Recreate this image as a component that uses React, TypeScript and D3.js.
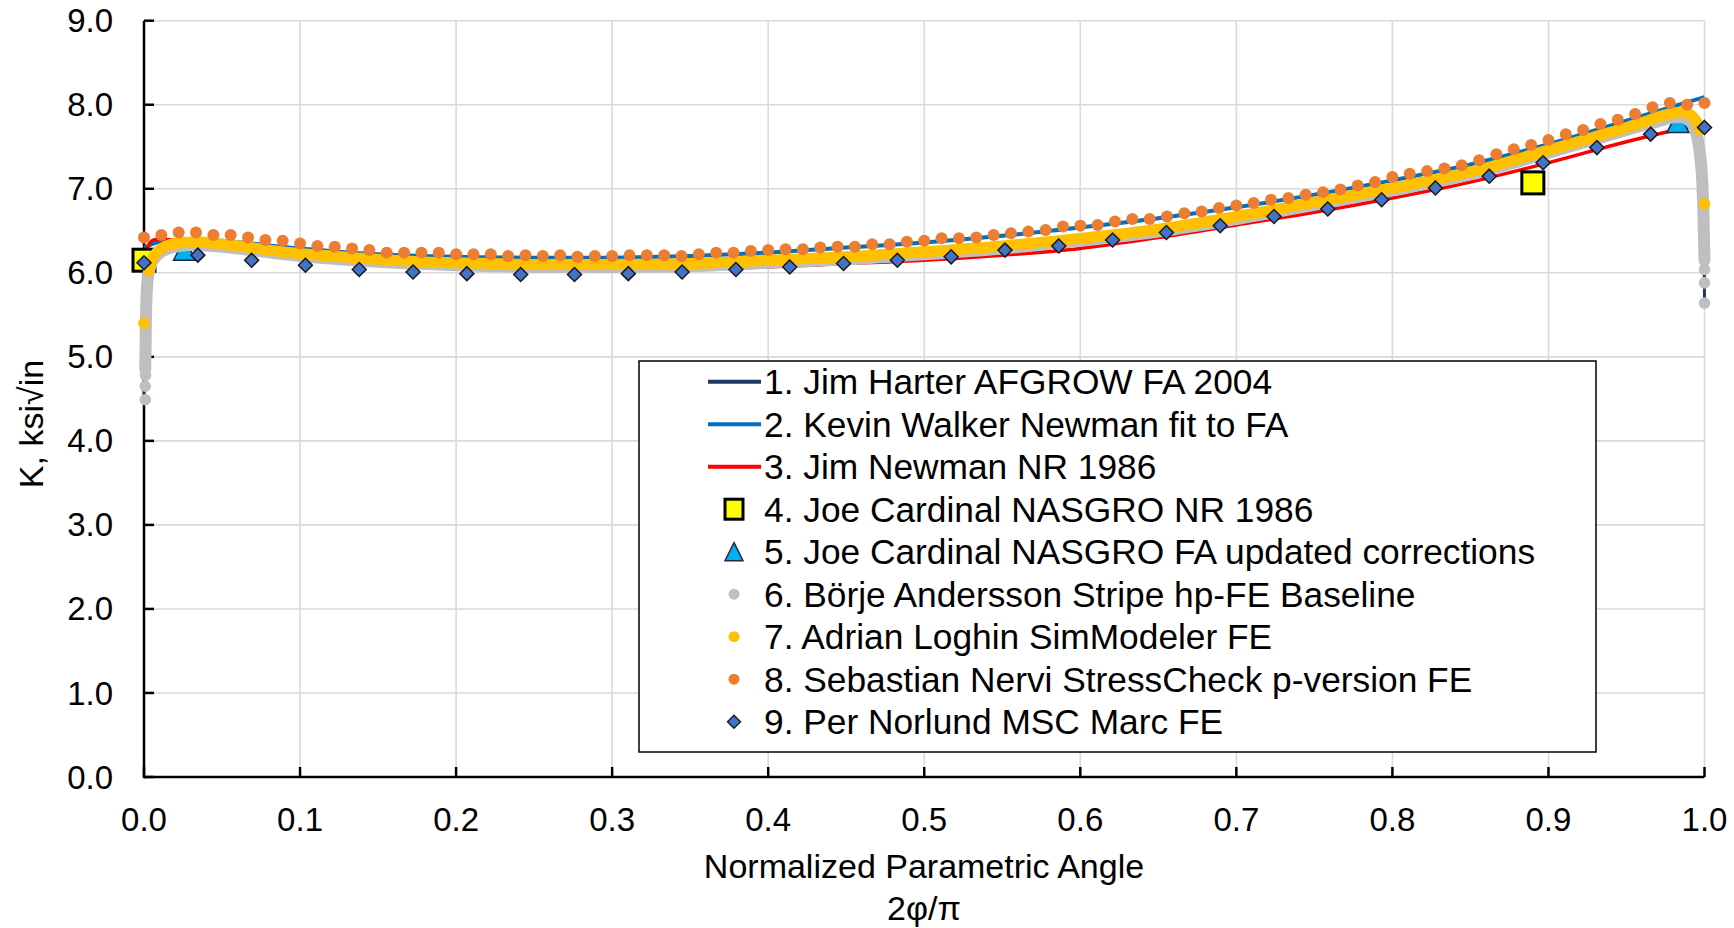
import React from 'react';
import * as d3 from 'd3';

const W = 1734;
const H = 928;
const FONT = '"Liberation Sans", Arial, Helvetica, sans-serif';

// ---- axis ticks ----
const xTicks = [0, 0.1, 0.2, 0.3, 0.4, 0.5, 0.6, 0.7, 0.8, 0.9, 1.0];
const yTicks = [0, 1, 2, 3, 4, 5, 6, 7, 8, 9];

// ---- 1. Jim Harter AFGROW FA 2004 (line) ----
const harterX = [0, 0.0005, 0.001, 0.002, 0.004, 0.008, 0.015, 0.03, 0.05, 0.1, 0.15, 0.2, 0.25, 0.3, 0.35, 0.4, 0.45, 0.5, 0.55, 0.6, 0.65, 0.7, 0.75, 0.8, 0.85, 0.9, 0.95, 0.97, 0.98, 0.99, 0.995, 0.998, 0.9995, 1.0];
const harterY = [4.55, 5.2, 5.7, 5.95, 6.12, 6.24, 6.31, 6.34, 6.32, 6.21, 6.15, 6.11, 6.09, 6.08, 6.1, 6.13, 6.18, 6.24, 6.31, 6.4, 6.51, 6.66, 6.83, 7.0, 7.19, 7.44, 7.71, 7.82, 7.86, 7.84, 7.7, 7.2, 6.5, 5.7];

// ---- 2. Kevin Walker Newman fit to FA (line) ----
const walkerX = [0, 0.01, 0.03, 0.05, 0.1, 0.15, 0.2, 0.25, 0.3, 0.35, 0.4, 0.45, 0.5, 0.55, 0.6, 0.65, 0.7, 0.75, 0.8, 0.85, 0.9, 0.95, 0.98, 1.0];
const walkerY = [6.3, 6.37, 6.4, 6.38, 6.29, 6.22, 6.19, 6.18, 6.18, 6.2, 6.24, 6.3, 6.36, 6.44, 6.54, 6.65, 6.78, 6.93, 7.1, 7.29, 7.53, 7.81, 7.98, 8.09];

// ---- 3. Jim Newman NR 1986 (line) ----
const newmanX = [0, 0.005, 0.02, 0.05, 0.1, 0.15, 0.2, 0.25, 0.3, 0.35, 0.4, 0.45, 0.5, 0.55, 0.6, 0.65, 0.7, 0.75, 0.8, 0.85, 0.9, 0.95, 1.0];
const newmanY = [6.15, 6.38, 6.39, 6.33, 6.22, 6.14, 6.08, 6.05, 6.04, 6.05, 6.07, 6.11, 6.15, 6.21, 6.29, 6.42, 6.57, 6.72, 6.89, 7.08, 7.31, 7.56, 7.78];

// ---- 4. Joe Cardinal NASGRO NR 1986 (squares) ----
const cardinalNrX = [0.0, 0.89];
const cardinalNrY = [6.15, 7.07];

// ---- 5. Joe Cardinal NASGRO FA updated corrections (triangles) ----
const cardinalFaX = [0.026, 0.983];
const cardinalFaY = [6.28, 7.8];

// ---- 6. Börje Andersson Stripe hp-FE Baseline (dense gray dots) ----
const anderssonX = [0.0008, 0.001, 0.0012, 0.0015, 0.002, 0.003, 0.005, 0.008, 0.012, 0.02, 0.03, 0.05, 0.1, 0.15, 0.2, 0.25, 0.3, 0.35, 0.4, 0.45, 0.5, 0.55, 0.6, 0.65, 0.7, 0.75, 0.8, 0.85, 0.9, 0.95, 0.97, 0.98, 0.988, 0.993, 0.996, 0.998, 0.999, 0.9995, 1.0];
const anderssonY = [4.85, 5.1, 5.4, 5.65, 5.85, 6.0, 6.12, 6.2, 6.26, 6.31, 6.33, 6.31, 6.2, 6.13, 6.09, 6.07, 6.07, 6.08, 6.12, 6.16, 6.22, 6.29, 6.38, 6.49, 6.64, 6.81, 6.98, 7.17, 7.43, 7.7, 7.8, 7.85, 7.84, 7.75, 7.55, 7.25, 6.9, 6.55, 6.15];
const anderssonDotX = [0.0008, 0.0008, 0.001, 1.0, 1.0, 1.0];
const anderssonDotY = [4.49, 4.65, 4.78, 6.04, 5.88, 5.64];

// ---- 7. Adrian Loghin SimModeler FE (dense yellow dots) ----
const loghinX = [0.003, 0.005, 0.008, 0.012, 0.017, 0.025, 0.035, 0.05, 0.065, 0.08, 0.1, 0.12, 0.15, 0.18, 0.2, 0.25, 0.3, 0.35, 0.4, 0.45, 0.5, 0.55, 0.6, 0.65, 0.7, 0.75, 0.8, 0.85, 0.9, 0.93, 0.95, 0.965, 0.975, 0.985, 0.991, 0.995, 0.997];
const loghinY = [6.02, 6.15, 6.24, 6.3, 6.34, 6.36, 6.37, 6.34, 6.31, 6.27, 6.23, 6.2, 6.16, 6.13, 6.12, 6.1, 6.1, 6.11, 6.15, 6.19, 6.25, 6.32, 6.41, 6.52, 6.67, 6.84, 7.01, 7.2, 7.46, 7.62, 7.73, 7.82, 7.88, 7.91, 7.88, 7.8, 7.7];
const loghinDotX = [0.0, 1.0];
const loghinDotY = [5.4, 6.82];

// ---- 8. Sebastian Nervi StressCheck p-version FE (orange dots, every 1 degree) ----
const nerviDeg = d3.range(0, 91);
const nerviY = [
  6.42, 6.45, 6.48, 6.48, 6.45, 6.45, 6.42, 6.39, 6.38, 6.35,
  6.32, 6.31, 6.29, 6.27, 6.24, 6.24, 6.24, 6.24, 6.22, 6.22,
  6.22, 6.2, 6.21, 6.2, 6.21, 6.19, 6.2, 6.2, 6.21, 6.21,
  6.21, 6.2, 6.22, 6.24, 6.24, 6.26, 6.27, 6.28, 6.28, 6.3,
  6.31, 6.31, 6.34, 6.34, 6.37, 6.38, 6.41, 6.41, 6.42, 6.45,
  6.47, 6.49, 6.51, 6.55, 6.56, 6.57, 6.61, 6.64, 6.64, 6.67,
  6.71, 6.73, 6.77, 6.8, 6.83, 6.87, 6.89, 6.93, 6.96, 6.99,
  7.04, 7.08, 7.14, 7.18, 7.21, 7.24, 7.28, 7.34, 7.41, 7.47,
  7.52, 7.58, 7.65, 7.7, 7.77, 7.82, 7.89, 7.97, 8.02, 8.0,
  8.02,
];

// ---- 9. Per Norlund MSC Marc FE (diamonds, 30 equally spaced nodes) ----
const norlundIdx = d3.range(0, 30);
const norlundY = [
  6.12, 6.21, 6.15, 6.09, 6.04, 6.01, 5.99, 5.98, 5.98, 5.99,
  6.01, 6.04, 6.07, 6.11, 6.15, 6.19, 6.27, 6.32, 6.39, 6.48,
  6.56, 6.67, 6.76, 6.87, 7.01, 7.15, 7.31, 7.49, 7.65, 7.73,
];

const legendLabels = [
  '1. Jim Harter AFGROW FA 2004',
  '2. Kevin Walker Newman fit to FA',
  '3. Jim Newman NR 1986',
  '4. Joe Cardinal NASGRO NR 1986',
  '5. Joe Cardinal NASGRO FA updated corrections',
  '6. Börje Andersson Stripe hp-FE Baseline',
  '7. Adrian Loghin SimModeler FE',
  '8. Sebastian Nervi StressCheck p-version FE',
  '9. Per Norlund MSC Marc FE',
];

const C = {
  harter: '#203864',
  walker: '#0070C0',
  newman: '#FF0000',
  square: '#FFFF00',
  tri: '#00B0F0',
  gray: '#BFBFBF',
  yellow: '#FFC000',
  orange: '#ED7D31',
  diamond: '#4472C4',
  grid: '#D9D9D9',
};

const zip = (xs: number[], ys: number[]) => xs.map((v, i) => [v, ys[i]] as [number, number]);

export default function App() {
  const x = d3.scaleLinear().domain([0, 1]).range([144, 1704.5]);
  const y = d3.scaleLinear().domain([0, 9]).range([777, 20.7]);
  const line = d3
    .line<[number, number]>()
    .x((d) => x(d[0]))
    .y((d) => y(d[1]))
    .curve(d3.curveCatmullRom.alpha(0.5));

  const nerviScale = d3.scaleLinear().domain([0, 90]).range([0, 1]);
  const norlundScale = d3.scaleLinear().domain([0, 29]).range([0, 1]);

  const tri = (s: number) => `M0,${-s} L${s},${s} L${-s},${s} Z`;
  const dia = (s: number) => `M0,${-s} L${s},0 L0,${s} L${-s},0 Z`;

  const x0 = x(0), x1 = x(1), y0 = y(0), y9 = y(9);

  const legX = 639, legY = 361, legW = 957, legH = 391;
  const rowY = (i: number) => 381.7 + i * 42.5;
  const mkX = 734;

  return (
    <svg
      width={W}
      height={H}
      viewBox={`0 0 ${W} ${H}`}
      style={{ position: 'absolute', left: 0, top: 0, background: '#fff' }}
      fontFamily={FONT}
    >
      <rect x={0} y={0} width={W} height={H} fill="#fff" />
      {/* gridlines */}
      {yTicks.filter((t) => t > 0).map((t) => (
        <line key={'gy' + t} x1={x0} x2={x1} y1={y(t)} y2={y(t)} stroke={C.grid} strokeWidth={1.6} />
      ))}
      {xTicks.filter((t) => t > 0).map((t) => (
        <line key={'gx' + t} x1={x(t)} x2={x(t)} y1={y0} y2={y9} stroke={C.grid} strokeWidth={1.6} />
      ))}
      {/* axes */}
      <line x1={x0} x2={x0} y1={y0 + 1.25} y2={y9} stroke="#000" strokeWidth={2.5} />
      <line x1={x0} x2={x1} y1={y0} y2={y0} stroke="#000" strokeWidth={2.5} />
      {yTicks.map((t) => (
        <line key={'ty' + t} x1={x0} x2={x0 + 10} y1={y(t)} y2={y(t)} stroke="#000" strokeWidth={2.5} />
      ))}
      {xTicks.map((t) => (
        <line key={'tx' + t} x1={x(t)} x2={x(t)} y1={y0} y2={y0 - 10} stroke="#000" strokeWidth={2.5} />
      ))}
      {/* tick labels */}
      {yTicks.map((t) => (
        <text key={'ly' + t} x={113} y={y(t)} dy="0.35em" textAnchor="end" fontSize={33} fill="#000">
          {t.toFixed(1)}
        </text>
      ))}
      {xTicks.map((t) => (
        <text key={'lx' + t} x={x(t)} y={831} textAnchor="middle" fontSize={33} fill="#000">
          {t.toFixed(1)}
        </text>
      ))}
      {/* axis titles */}
      <text x={924} y={878} textAnchor="middle" fontSize={34} fill="#000">Normalized Parametric Angle</text>
      <text x={924} y={920} textAnchor="middle" fontSize={34} fill="#000">2φ/π</text>
      <text transform="translate(43,424) rotate(-90)" textAnchor="middle" fontSize={34} fill="#000">K, ksi√in</text>

      {/* series 1-3 lines */}
      <path d={line(zip(harterX, harterY)) || ''} fill="none" stroke={C.harter} strokeWidth={3} />
      <path d={line(zip(walkerX, walkerY)) || ''} fill="none" stroke={C.walker} strokeWidth={4} />
      <path d={line(zip(newmanX, newmanY)) || ''} fill="none" stroke={C.newman} strokeWidth={3.5} />

      {/* series 4 squares */}
      {cardinalNrX.map((v, i) => (
        <rect key={'sq' + i} x={x(v) - 11} y={y(cardinalNrY[i]) - 11} width={22} height={22} fill={C.square} stroke="#000" strokeWidth={3} />
      ))}
      {/* series 5 triangles */}
      {cardinalFaX.map((v, i) => (
        <path key={'tr' + i} d={tri(11)} transform={`translate(${x(v)},${y(cardinalFaY[i])})`} fill={C.tri} stroke="#1F2A44" strokeWidth={1.5} />
      ))}

      {/* series 6 gray band */}
      <path d={line(zip(anderssonX, anderssonY)) || ''} fill="none" stroke={C.gray} strokeWidth={12} strokeLinecap="round" strokeLinejoin="round" />
      {anderssonDotX.map((v, i) => (
        <circle key={'ad' + i} cx={x(v)} cy={y(anderssonDotY[i])} r={5.8} fill={C.gray} />
      ))}
      {/* series 7 yellow band */}
      <path d={line(zip(loghinX, loghinY)) || ''} fill="none" stroke={C.yellow} strokeWidth={11} strokeLinecap="round" strokeLinejoin="round" />
      {loghinDotX.map((v, i) => (
        <circle key={'ld' + i} cx={x(v)} cy={y(loghinDotY[i])} r={5.8} fill={C.yellow} />
      ))}
      {/* series 8 orange dots */}
      {nerviDeg.map((d, i) => (
        <circle key={'nv' + i} cx={x(nerviScale(d))} cy={y(nerviY[i])} r={6} fill={C.orange} />
      ))}
      {/* series 9 diamonds */}
      {norlundIdx.map((k, i) => (
        <path key={'nl' + i} d={dia(7)} transform={`translate(${x(norlundScale(k))},${y(norlundY[i])})`} fill={C.diamond} stroke="#1a1a1a" strokeWidth={1.5} />
      ))}

      {/* legend */}
      <rect x={legX} y={legY} width={legW} height={legH} fill="#fff" stroke="#000" strokeWidth={1.5} />
      {[C.harter, C.walker, C.newman].map((c, i) => (
        <line key={'ll' + i} x1={708} x2={761} y1={rowY(i)} y2={rowY(i)} stroke={c} strokeWidth={4} />
      ))}
      <rect x={mkX - 9} y={rowY(3) - 10} width={18} height={20} fill={C.square} stroke="#000" strokeWidth={3} />
      <path d={tri(9)} transform={`translate(${mkX},${rowY(4)})`} fill={C.tri} stroke="#1F2A44" strokeWidth={1.5} />
      <circle cx={mkX} cy={rowY(5)} r={5.5} fill={C.gray} />
      <circle cx={mkX} cy={rowY(6)} r={5.5} fill={C.yellow} />
      <circle cx={mkX} cy={rowY(7)} r={5.5} fill={C.orange} />
      <path d={dia(6.5)} transform={`translate(${mkX},${rowY(8)})`} fill={C.diamond} stroke="#1a1a1a" strokeWidth={1.4} />
      {legendLabels.map((s, i) => (
        <text key={'lt' + i} x={764} y={rowY(i)} dy="0.35em" fontSize={35.3} fill="#000">
          {s}
        </text>
      ))}
    </svg>
  );
}
